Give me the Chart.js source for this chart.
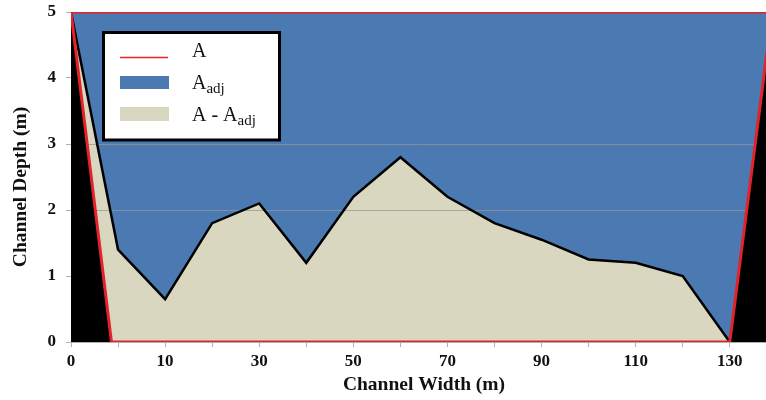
<!DOCTYPE html>
<html>
<head>
<meta charset="utf-8">
<script src="https://cdn.jsdelivr.net/npm/chart.js@4.4.1/dist/chart.umd.min.js"></script>
<style>
  html, body { margin: 0; padding: 0; background: #fff; }
  #wrap { position: relative; width: 766px; height: 400px; }
</style>
</head>
<body>
<div id="wrap"><canvas id="section" width="766" height="400"></canvas></div>
<script>
// Survey stations across the channel (width, m); one category per station
const widths = [0, 5, 10, 20, 30, 40, 50, 60, 70, 80, 90, 100, 110, 120, 130];
// Bed depth measured at each station (m); the area beneath it is A - Aadj
const bedDepth = [5, 1.4, 0.65, 1.8, 2.1, 1.2, 2.2, 2.8, 2.2, 1.8, 1.55, 1.25, 1.2, 1.0, 0];
// Design section A (trapezoid) as width / depth vertices
const channelWidth = [0, 4.3, 130, 139, 0];
const channelDepth = [5, 0, 0, 5, 5];
// Stations printed on the width axis
const widthTickLabels = ['0', '10', '30', '50', '70', '90', '110', '130'];
// Depth axis range and the depth levels carrying a grid line
const depthMin = 0;
const depthMax = 5;
const gridDepths = [2, 3];
// Axis titles
const xTitle = 'Channel Width (m)';
const yTitle = 'Channel Depth (m)';
// Legend entries: main text and subscript
const legendLabels = ['A', 'A', 'A - A'];
const legendSubs = ['', 'adj', 'adj'];

const SERIF = '"Liberation Serif", "Times New Roman", serif';
const RED = '#e3232b';
const BLUE = '#4b79b1';
const BEIGE = '#dad7c1';

// Stations sit at equal spacing on the axis; map a width to its slot position
function widthToPos(w) {
  const n = widths.length;
  for (let i = 0; i < n - 1; i++) {
    if (w <= widths[i + 1]) return i + (w - widths[i]) / (widths[i + 1] - widths[i]);
  }
  const step = widths[n - 1] - widths[n - 2];
  return (n - 1) + (w - widths[n - 1]) / step;
}

const bedPoints = bedDepth.map((d, i) => ({ x: widthToPos(widths[i]), y: d }));
const channelPoints = channelWidth.map((w, i) => ({ x: widthToPos(w), y: channelDepth[i] }));
const farEdge = widthToPos(channelWidth[3]) + 2;
// Water surface across the section
const surfacePoints = [{ x: 0, y: depthMax }, { x: farEdge, y: depthMax }];
// Banks outside the design section
const leftBank = [channelPoints[0], channelPoints[1]];
const rightBank = [channelPoints[2], channelPoints[3], { x: farEdge, y: depthMax }];

// Grid lines are laid over the water surface but under the bed fill
const gridUnderBed = {
  id: 'gridUnderBed',
  beforeDatasetDraw(chart, args) {
    if (chart.data.datasets[args.index].label !== 'bed') return;
    const { ctx, chartArea, scales } = chart;
    ctx.save();
    ctx.strokeStyle = 'rgba(150,150,150,0.75)';
    ctx.lineWidth = 1;
    gridDepths.forEach(d => {
      const y = Math.round(scales.y.getPixelForValue(d)) + 0.5;
      ctx.beginPath();
      ctx.moveTo(chartArea.left, y);
      ctx.lineTo(chartArea.right, y);
      ctx.stroke();
    });
    ctx.restore();
  }
};

// Axis titles, set slightly off the plot centre
const axisTitles = {
  id: 'axisTitles',
  afterDraw(chart) {
    const ctx = chart.ctx;
    ctx.save();
    ctx.fillStyle = '#111';
    ctx.font = 'bold 19.5px ' + SERIF;
    ctx.textAlign = 'center';
    ctx.textBaseline = 'alphabetic';
    ctx.fillText(xTitle, 424, 390);
    ctx.translate(26, 187);
    ctx.rotate(-Math.PI / 2);
    ctx.fillText(yTitle, 0, 0);
    ctx.restore();
  }
};

// Boxed legend with subscripted labels
const boxedLegend = {
  id: 'boxedLegend',
  afterDraw(chart) {
    const ctx = chart.ctx;
    ctx.save();
    ctx.fillStyle = '#fff';
    ctx.fillRect(103, 32, 177, 108);
    ctx.lineWidth = 3;
    ctx.strokeStyle = '#000';
    ctx.strokeRect(103.5, 32.5, 176, 107.5);

    // swatches
    ctx.strokeStyle = RED;
    ctx.lineWidth = 1.5;
    ctx.beginPath();
    ctx.moveTo(120, 57.5);
    ctx.lineTo(168, 57.5);
    ctx.stroke();
    ctx.fillStyle = BLUE;
    ctx.fillRect(120, 76, 49, 13);
    ctx.fillStyle = BEIGE;
    ctx.fillRect(120, 107, 49, 14);

    const baselines = [57, 89, 120.5];
    ctx.fillStyle = '#111';
    ctx.textBaseline = 'alphabetic';
    ctx.textAlign = 'left';
    legendLabels.forEach((t, i) => {
      ctx.font = '20px ' + SERIF;
      ctx.fillText(t, 192, baselines[i]);
      if (legendSubs[i]) {
        const w = ctx.measureText(t).width;
        ctx.font = '15px ' + SERIF;
        ctx.fillText(legendSubs[i], 192 + w, baselines[i] + 4);
      }
    });
    ctx.restore();
  }
};

const tickFont = { family: SERIF, size: 17, weight: 'bold' };

new Chart(document.getElementById('section'), {
  type: 'scatter',
  data: {
    datasets: [
      { label: 'A', data: channelPoints, showLine: true, fill: false,
        borderColor: RED, borderWidth: 3, borderJoinStyle: 'miter',
        pointRadius: 0, order: 0 },
      { label: 'leftBank', data: leftBank, showLine: true, fill: 'origin',
        backgroundColor: '#000', borderWidth: 0, pointRadius: 0, order: 1 },
      { label: 'rightBank', data: rightBank, showLine: true, fill: 'origin',
        backgroundColor: '#000', borderWidth: 0, pointRadius: 0, order: 1 },
      { label: 'bed', data: bedPoints, showLine: true, fill: 'origin',
        backgroundColor: BEIGE, borderColor: '#000', borderWidth: 2.5,
        borderJoinStyle: 'miter', pointRadius: 0, order: 2 },
      { label: 'Aadj', data: surfacePoints, showLine: true, fill: 'origin',
        backgroundColor: BLUE, borderWidth: 0, pointRadius: 0, order: 3 }
    ]
  },
  options: {
    responsive: false,
    animation: false,
    layout: { padding: { top: 12, right: 0, left: 0, bottom: 0 } },
    plugins: { legend: { display: false }, tooltip: { enabled: false } },
    elements: { line: { tension: 0 } },
    scales: {
      x: {
        type: 'linear',
        min: 0,
        max: 14.77,
        afterFit(scale) { scale.height = 58; scale.paddingLeft = 0; scale.paddingRight = 0; },
        border: { display: true, color: '#b0b0b0', width: 1 },
        grid: { drawOnChartArea: false, drawTicks: true, tickLength: 5, color: '#b0b0b0' },
        ticks: {
          stepSize: 1,
          autoSkip: false,
          maxRotation: 0,
          includeBounds: false,
          padding: 4,
          color: '#111',
          font: tickFont,
          callback(v) {
            if (!Number.isInteger(v)) return '';
            const s = String(widths[v]);
            return widthTickLabels.includes(s) ? s : '';
          }
        },
        title: { display: false }
      },
      y: {
        min: depthMin,
        max: depthMax,
        afterFit(scale) { scale.width = 71; scale.paddingTop = 0; scale.paddingBottom = 0; },
        border: { display: false },
        grid: { drawOnChartArea: false, drawTicks: true, tickLength: 5, color: '#b0b0b0' },
        ticks: { stepSize: 1, padding: 10, color: '#111', font: tickFont },
        title: { display: false }
      }
    }
  },
  plugins: [gridUnderBed, axisTitles, boxedLegend]
});
</script>
</body>
</html>
